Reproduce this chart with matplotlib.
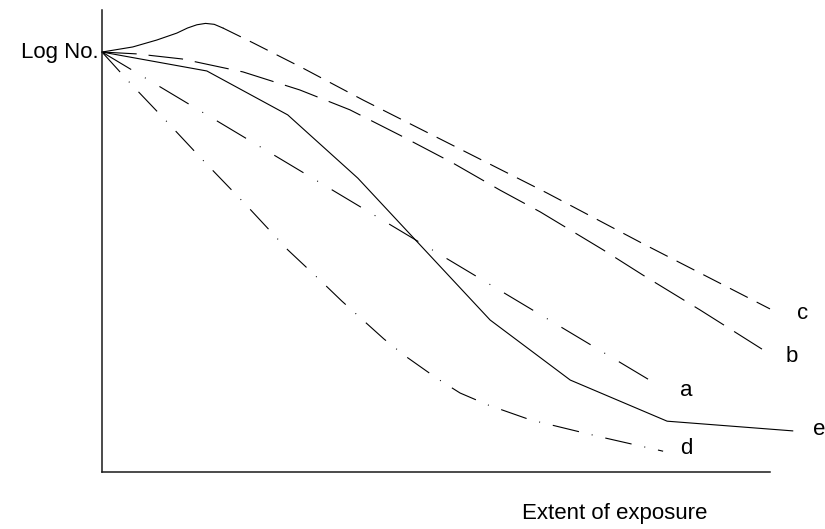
import matplotlib
matplotlib.use("Agg")
import matplotlib.pyplot as plt

plt.rcParams["font.family"] = ["Liberation Sans", "DejaVu Sans"]
plt.rcParams["lines.scale_dashes"] = False

# Survivor curves: log number vs. extent of exposure (arbitrary units 0-100)
a_x = [0.0, 83.7]
a_y = [90.9, 18.4]

b_x = [0.0, 5.2, 12.0, 21.1, 29.6, 37.1, 44.6, 52.5, 59.6, 65.6, 75.0, 81.0, 89.5, 98.8]
b_y = [90.9, 90.5, 89.4, 86.6, 82.7, 78.4, 72.9, 66.9, 61.0, 56.3, 48.1, 42.6, 35.1, 26.6]

c_x = [0.0, 4.6, 8.2, 11.2, 12.8, 14.2, 15.5, 16.8, 18.1, 22.6, 30.1, 39.1, 52.1, 66.6, 81.0, 100.0]
c_y = [90.9, 92.0, 93.5, 95.0, 96.1, 96.8, 97.1, 96.9, 96.1, 92.9, 87.4, 80.5, 71.0, 60.4, 49.4, 35.3]
c_shoulder = 9  # points of the initial rise drawn as a continuous stroke

d_x = [0.0, 4.2, 9.6, 15.1, 21.7, 27.8, 33.1, 35.9, 42.2, 45.4, 50.1, 53.6, 57.8, 64.1, 74.6, 84.0]
d_y = [90.9, 84.2, 76.0, 67.5, 57.6, 48.1, 40.9, 37.0, 28.8, 25.1, 20.3, 17.1, 14.5, 11.3, 7.6, 4.5]

e_x = [0.0, 15.7, 27.8, 38.3, 58.1, 70.1, 84.6, 103.4]
e_y = [90.9, 86.8, 77.3, 63.6, 32.9, 19.9, 11.0, 8.9]

labels = ["a", "b", "c", "d", "e"]
label_x = [87.4, 103.3, 104.9, 87.4, 107.3]
label_y = [17.6, 25.0, 34.2, 5.0, 9.1]

fig = plt.figure(figsize=(8.25, 5.29), dpi=100)
ax = fig.add_axes([102 / 825, 57 / 529, 668 / 825, 462 / 529])
ax.set_xlim(0, 100)
ax.set_ylim(0, 100)

lw = 0.8
col = "black"
ax.plot(a_x, a_y, color=col, lw=lw, dashes=(24.5, 11.5, 0.7, 11.5),
        dash_capstyle="butt", clip_on=False)
ax.plot(b_x, b_y, color=col, lw=lw, dashes=(25, 8.6),
        dash_capstyle="butt", clip_on=False)
ax.plot(c_x[:c_shoulder], c_y[:c_shoulder], color=col, lw=lw,
        solid_joinstyle="round", clip_on=False)
ax.plot(c_x[c_shoulder - 1:], c_y[c_shoulder - 1:], color=col, lw=lw,
        dashes=(14.4, 7.2), dash_capstyle="butt", clip_on=False)
ax.plot(d_x, d_y, color=col, lw=lw, dashes=(19.4, 9.4, 0.7, 9.4),
        dash_capstyle="butt", clip_on=False)
ax.plot(e_x, e_y, color=col, lw=lw, clip_on=False)

fs = 16
for lab, lx, ly in zip(labels, label_x, label_y):
    ax.text(lx, ly, lab, fontsize=fs, ha="center", va="center", clip_on=False)

ax.text(-0.45, 90.9, "Log No.", fontsize=fs, ha="right", va="center")
fig.text(615 / 825, 1 - 513 / 529, "Extent of exposure", fontsize=fs,
         ha="center", va="center")

for side in ("top", "right"):
    ax.spines[side].set_visible(False)
for side in ("left", "bottom"):
    ax.spines[side].set_color("#1a1a1a")
    ax.spines[side].set_linewidth(1.1)
ax.set_xticks([])
ax.set_yticks([])

fig.savefig("out.png", dpi=100)
